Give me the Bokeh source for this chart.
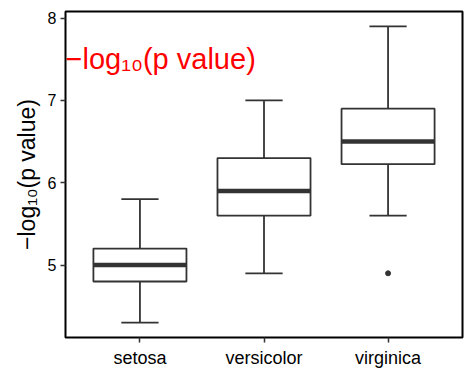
from bokeh.plotting import figure
from bokeh.models import Range1d, FixedTicker, Label
from bokeh.embed import file_html
from bokeh.resources import INLINE

# ---- data ----
species = ["setosa", "versicolor", "virginica"]
whisker_low = [4.3, 4.9, 5.6]
q1 = [4.8, 5.6, 6.225]
median = [5.0, 5.9, 6.5]
q3 = [5.2, 6.3, 6.9]
whisker_high = [5.8, 7.0, 7.9]
outlier_species = ["virginica"]
outlier_values = [4.9]
y_ticks = [5, 6, 7, 8]
y_title = "\u2212log\u2081\u2080(p value)"
annotation_text = "\u2212log\u2081\u2080(p value)"

FONT = "Liberation Sans"
BOX_W = 0.75
CAP_W = 0.3
xs = list(range(1, len(species) + 1))
pos = {s: i for s, i in zip(species, xs)}

p = figure(width=474, height=379, output_backend="svg", toolbar_location=None,
           x_range=Range1d(0.4, 3.6), y_range=Range1d(4.12, 8.08),
           min_border_left=65, min_border_right=12, min_border_top=11, min_border_bottom=42)
p.grid.visible = False
p.outline_line_color = "black"
p.outline_line_width = 2

# axes
p.xaxis.ticker = FixedTicker(ticks=xs)
p.xaxis.major_label_overrides = {i: s for i, s in zip(xs, species)}
p.yaxis.ticker = FixedTicker(ticks=y_ticks)
for ax in (p.xaxis, p.yaxis):
    ax.axis_line_color = None
    ax.minor_tick_line_color = None
    ax.major_tick_in = 0
    ax.major_tick_out = 5
    ax.major_tick_line_color = "#333333"
    ax.major_tick_line_width = 1.5
    ax.major_label_text_font = FONT
    ax.major_label_text_color = "black"
p.xaxis.major_label_text_font_size = "18px"
p.xaxis.major_label_standoff = 5
p.yaxis.major_label_text_font_size = "16px"
p.yaxis.major_label_standoff = 4
p.yaxis.axis_label = y_title
p.yaxis.axis_label_text_font = FONT
p.yaxis.axis_label_text_font_size = "23px"
p.yaxis.axis_label_text_font_style = "normal"
p.yaxis.axis_label_text_color = "black"
p.yaxis.axis_label_standoff = 5

# whiskers
p.segment(x0=xs, y0=q3, x1=xs, y1=whisker_high, line_color="#333333", line_width=1.8)
p.segment(x0=xs, y0=q1, x1=xs, y1=whisker_low, line_color="#333333", line_width=1.8)
# caps
cap_l = [x - CAP_W / 2 for x in xs]
cap_r = [x + CAP_W / 2 for x in xs]
p.segment(x0=cap_l, y0=whisker_high, x1=cap_r, y1=whisker_high, line_color="#333333", line_width=1.8)
p.segment(x0=cap_l, y0=whisker_low, x1=cap_r, y1=whisker_low, line_color="#333333", line_width=1.8)
# boxes
p.vbar(x=xs, width=BOX_W, top=q3, bottom=q1, fill_color="white",
       line_color="#333333", line_width=1.8)
# medians
p.segment(x0=[x - BOX_W / 2 for x in xs], y0=median, x1=[x + BOX_W / 2 for x in xs], y1=median,
          line_color="#333333", line_width=4.5, line_cap="butt")
# outliers
p.scatter(x=[pos[s] for s in outlier_species], y=outlier_values, size=5,
          fill_color="#333333", line_color="#333333")

# in-panel red annotation
p.add_layout(Label(x=0.4, y=7.50, text=annotation_text, text_color="red",
                   text_font=FONT, text_font_size="29px", text_align="left",
                   text_baseline="alphabetic"))

open("out.html", "w").write(file_html(p, INLINE))
